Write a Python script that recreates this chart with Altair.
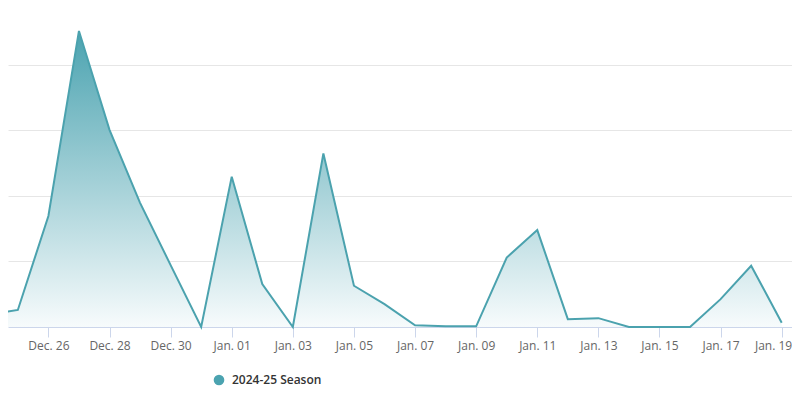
import altair as alt
import pandas as pd

dates = [
    "2024-12-24", "2024-12-25", "2024-12-26", "2024-12-27", "2024-12-28",
    "2024-12-29", "2024-12-30", "2024-12-31", "2025-01-01", "2025-01-02",
    "2025-01-03", "2025-01-04", "2025-01-05", "2025-01-06", "2025-01-07",
    "2025-01-08", "2025-01-09", "2025-01-10", "2025-01-11", "2025-01-12",
    "2025-01-13", "2025-01-14", "2025-01-15", "2025-01-16", "2025-01-17",
    "2025-01-18", "2025-01-19",
]
values = [
    3.8, 5.2, 33.9, 90.4, 60.2,
    37.9, 18.9, 0.0, 45.9, 13.1,
    0.0, 53.0, 12.6, 7.0, 0.5,
    0.2, 0.2, 21.2, 29.6, 2.4,
    2.7, 0.0, 0.0, 0.0, 8.5,
    18.7, 1.3,
]
series_name = "2024-25 Season"
tick_days = [
    (2024, 12, 24), (2024, 12, 26), (2024, 12, 28), (2024, 12, 30),
    (2025, 1, 1), (2025, 1, 3), (2025, 1, 5), (2025, 1, 7), (2025, 1, 9),
    (2025, 1, 11), (2025, 1, 13), (2025, 1, 15), (2025, 1, 17), (2025, 1, 19),
]

df = pd.DataFrame({"date": dates, "value": values, "series": series_name})

LINE = "#4BA2AE"
FONT = "Open Sans"

x_domain = [
    alt.DateTime(year=2024, month=12, date=24, hours=16, minutes=16, utc=True),
    alt.DateTime(year=2025, month=1, date=19, hours=8, minutes=5, utc=True),
]
tick_vals = [alt.DateTime(year=y, month=m, date=d, utc=True) for (y, m, d) in tick_days]

x_enc = alt.X(
    "date:T",
    scale=alt.Scale(type="utc", domain=x_domain),
    axis=alt.Axis(
        values=tick_vals, format="%b. %d", title=None, grid=False,
        domainColor="#ccd6eb", tickColor="#ccd6eb", tickSize=10,
        labelColor="#666666", labelFontSize=12, labelFont=FONT,
        labelPadding=3, labelFlush=False, labelOverlap=False,
        labelAlign={"condition": {"test": "datum.index == 1", "value": "right"}, "value": "center"},
        labelOffset={"condition": {"test": "datum.index == 1", "value": 10}, "value": 0},
    ),
)
y_enc = alt.Y(
    "value:Q",
    scale=alt.Scale(domain=[0, 97.4], nice=False, zero=True),
    axis=alt.Axis(
        values=[20, 40, 60, 80], title=None, labels=False, ticks=False,
        domain=False, grid=True, gridColor="#e6e6e6", gridWidth=1,
    ),
)

base = alt.Chart(df)

area = base.mark_area(
    interpolate="linear",
    color=alt.Gradient(
        gradient="linear",
        stops=[
            alt.GradientStop(color="#4BA3B0", offset=0),
            alt.GradientStop(color="#f7fbfc", offset=1),
        ],
        x1=1, x2=1, y1=0, y2=1,
    ),
).encode(x=x_enc, y=y_enc)

line = base.mark_line(interpolate="linear", color=LINE, strokeWidth=2).encode(
    x=x_enc, y=y_enc
)

legend_pts = base.mark_point(filled=True, opacity=0, size=10).encode(
    x=x_enc,
    y=y_enc,
    color=alt.Color(
        "series:N",
        scale=alt.Scale(range=["#4BA3B0"]),
        legend=alt.Legend(
            title=None, orient="none", legendX=205, legendY=366,
            symbolType="circle", symbolSize=113, symbolOpacity=1,
            symbolStrokeWidth=0, labelFont=FONT, labelFontSize=12,
            labelFontWeight=600, labelColor="#333333", labelOffset=7,
            padding=0,
        ),
    ),
)

chart = (
    alt.layer(area, line, legend_pts)
    .properties(
        width=784, height=319,
        autosize=alt.AutoSizeParams(type="none"),
        padding={"left": 0, "top": 0, "right": 0, "bottom": 69},
        background="white",
    )
    .configure_view(stroke=None)
)

chart.save("out.html", embed_options={"renderer": "svg", "actions": False})
